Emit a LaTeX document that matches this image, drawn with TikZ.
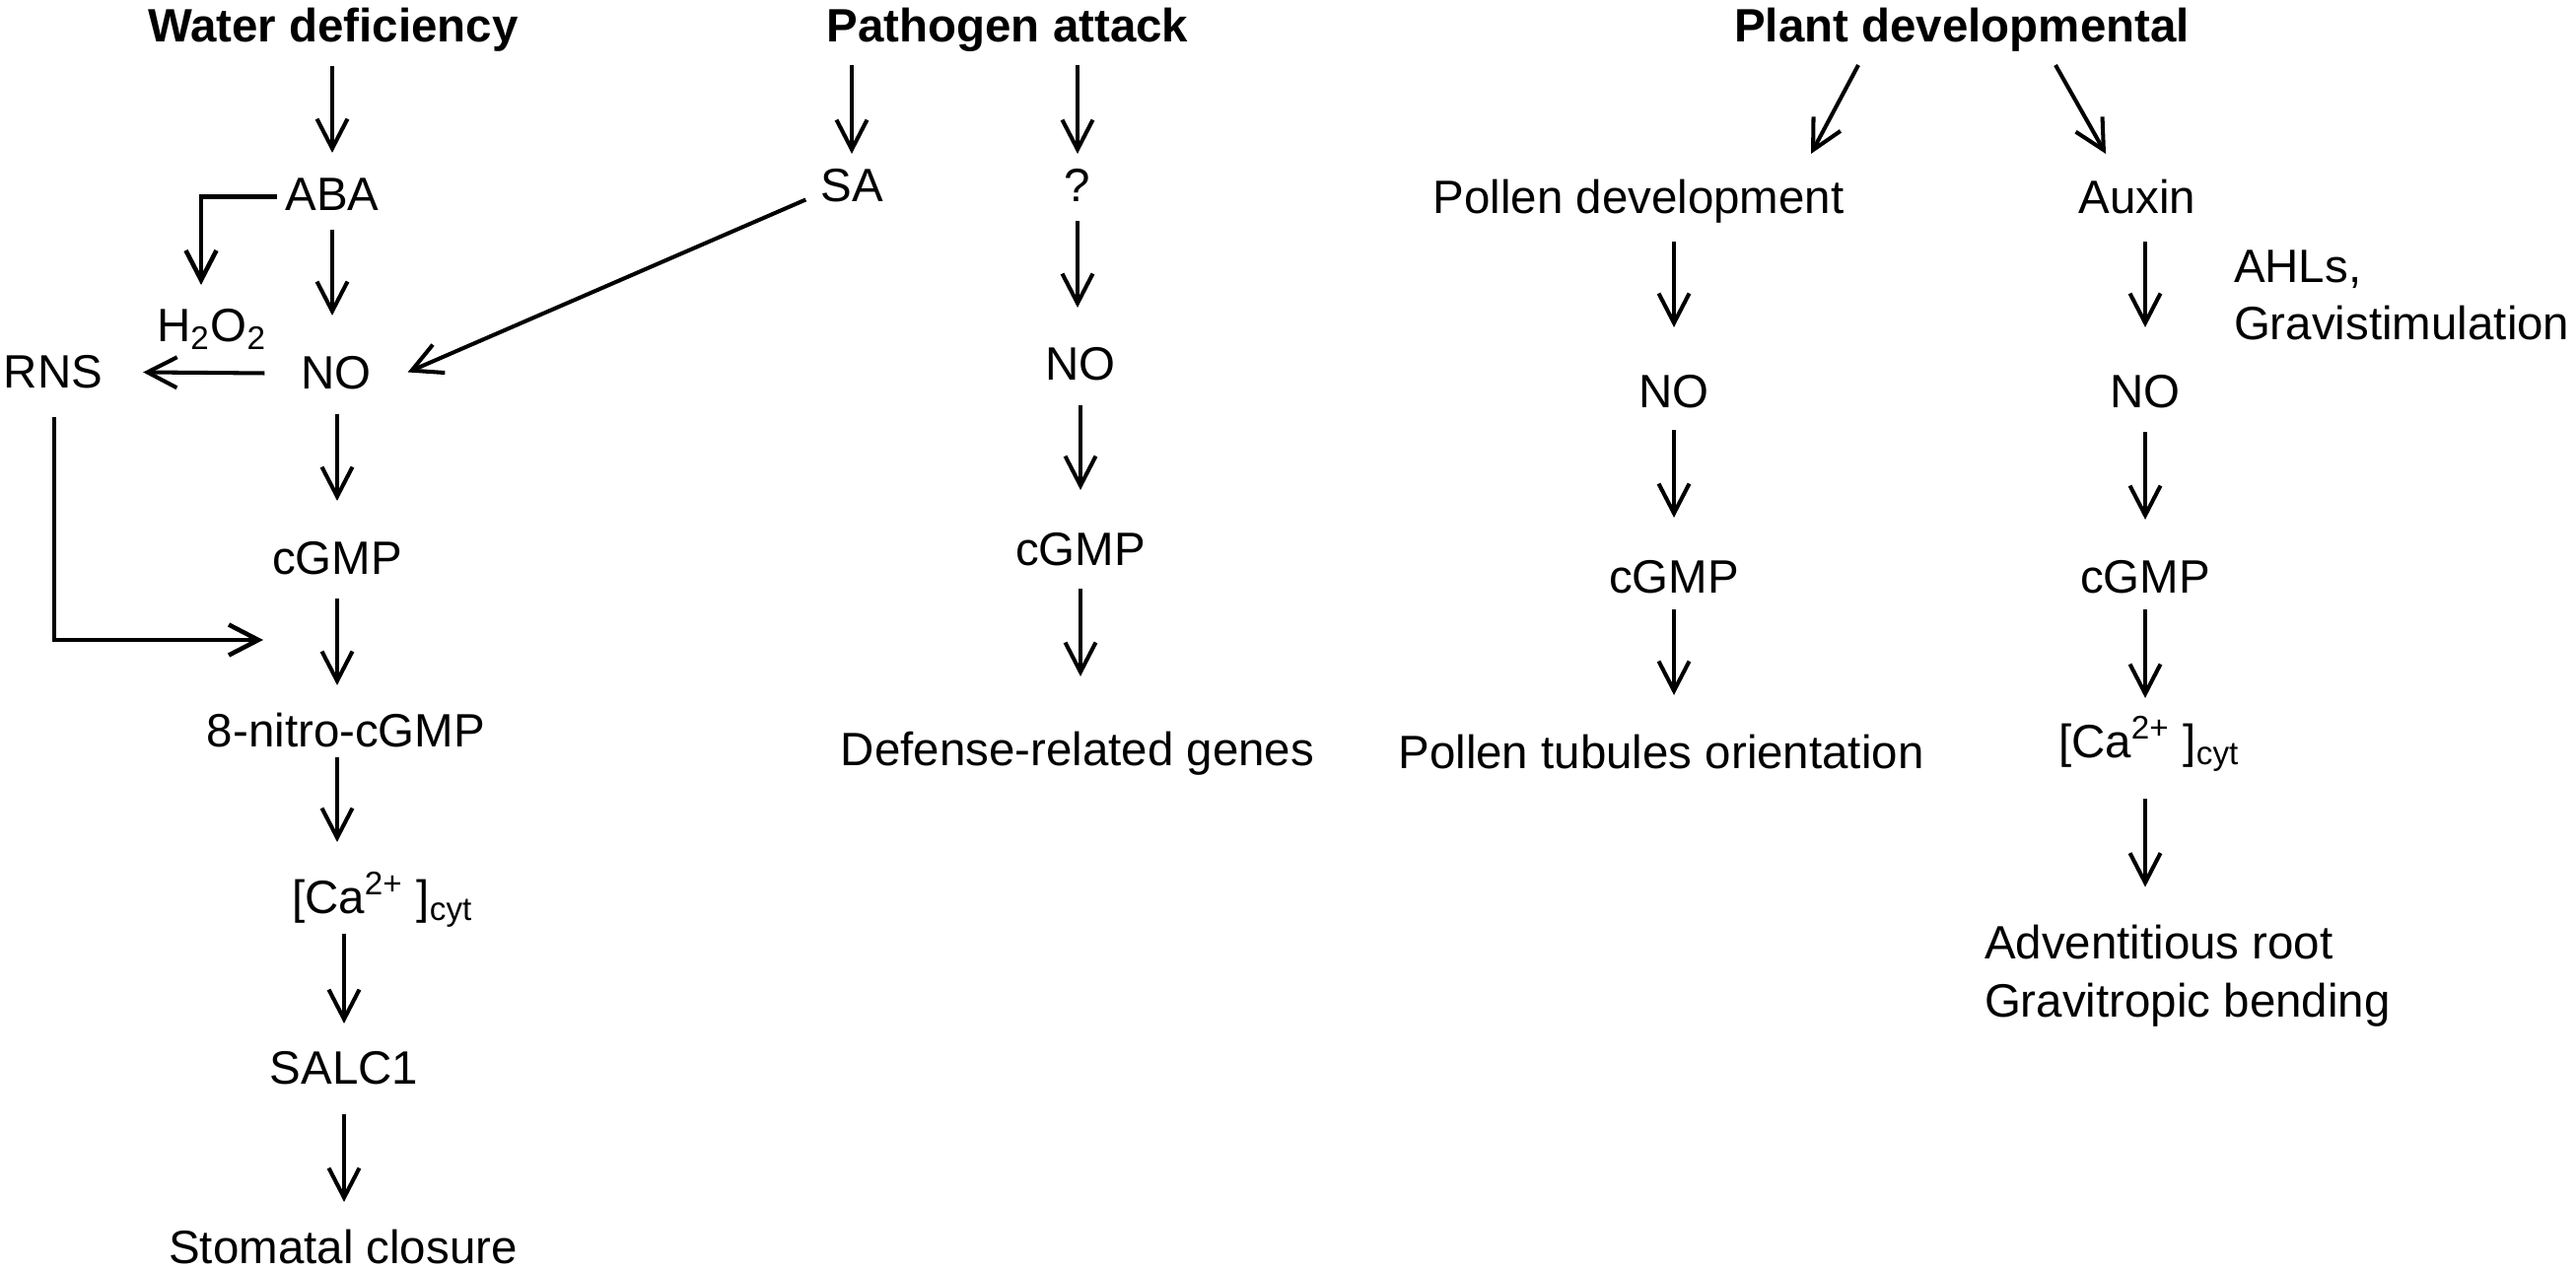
\documentclass[tikz,border=0pt]{standalone}
\usepackage{fontspec}
\setmainfont{Liberation Sans}
\usetikzlibrary{arrows.meta,calc}
\begin{document}
\begin{tikzpicture}[x=0.01cm,y=-0.01cm,
  lbl/.style={inner sep=0pt,outer sep=0pt,text height=0.35cm,text depth=0.1cm,anchor=base,font=\fontsize{13.5}{16.5}\selectfont},
  hdr/.style={lbl,font=\fontsize{13.5}{16.5}\selectfont\bfseries},
  multi/.style={inner sep=0pt,outer sep=0pt,anchor=base west,align=left,font=\fontsize{13.5}{16.5}\selectfont},
  arr/.style={-{Straight Barb[length=0.3cm,width=0.31cm]},line width=1.15pt},
  arrthick/.style={arr,line width=1.3pt},
]
\useasboundingbox[fill=white] (0,0) rectangle (2613,1289);

% headings
\node[hdr] (WD) at (338,43) {Water deficiency};
\node[hdr] (PA) at (1022,43) {Pathogen attack};
\node[hdr] (PD) at (1990,43) {Plant developmental};

% water deficiency column
\node[lbl] (ABA) at (337,214) {ABA};
\node[lbl] (H2O2) at (215,347) {H\textsubscript{2}O\textsubscript{2}};
\node[lbl] (NOl) at (341,395) {NO};
\node[lbl] (RNS) at (54,394) {RNS};
\node[lbl] (cGMPl) at (342,583) {cGMP};
\node[lbl] (nitro) at (351,758) {8-nitro-cGMP};
\node[lbl,anchor=base west] (Cal) at (296,926) {[Ca\textsuperscript{2+} ]\textsubscript{cyt}};
\node[lbl] (SALC) at (349,1099) {SALC1};
\node[lbl] (stom) at (348,1281) {Stomatal closure};

% pathogen column
\node[lbl] (SA) at (864,205) {SA};
\node[lbl] (Q) at (1093,205) {?};
\node[lbl] (NOm) at (1096,386) {NO};
\node[lbl] (cGMPm) at (1096,574) {cGMP};
\node[lbl] (def) at (1093,776) {Defense-related genes};

% plant developmental columns
\node[lbl] (PoD) at (1662,217) {Pollen development};
\node[lbl] (aux) at (2168,217) {Auxin};
\node[multi] (AHL) at (2266,345) {AHLs,\\Gravistimulation};
\node[lbl] (NOr1) at (1698,414) {NO};
\node[lbl] (NOr2) at (2176,414) {NO};
\node[lbl] (cGr1) at (1698,602) {cGMP};
\node[lbl] (cGr2) at (2176,602) {cGMP};
\node[lbl] (PTO) at (1685,780) {Pollen tubules orientation};
\node[lbl,anchor=base west] (Car) at (2088,768) {[Ca\textsuperscript{2+} ]\textsubscript{cyt}};
\node[multi] (adv) at (2013,1031) {Adventitious root\\Gravitropic bending};

% arrows: water deficiency
\draw[arr,shorten <=0.14cm,shorten >=0.24cm] (WD.south -| ABA) -- (ABA.north);
\draw[arr,shorten <=0.09cm,shorten >=0.40cm] (ABA.south) -- (ABA.south |- NOl.north);
\draw[arrthick] ($(ABA.west)+(-9,-2)$) -| ($(H2O2.north)+(-11,-23)$);
\draw[arr] ($(NOl.west)+(-37,-4)$) -- ($(RNS.east)+(41,-4)$);
\draw[arr,shorten <=0.15cm,shorten >=0.40cm] (NOl.south -| cGMPl) -- (cGMPl.north);
\draw[arrthick] ($(RNS.south)+(1,19)$) |- ($(cGMPl.south)+(-75,56)$);
\draw[arr,shorten <=0.14cm,shorten >=0.28cm] (cGMPl.south) -- (cGMPl.south |- nitro.north);
\draw[arr,shorten >=0.37cm] (cGMPl.south |- nitro.south) -- (cGMPl.south |- Cal.north);
\draw[arr,shorten <=0.11cm,shorten >=0.26cm] (SALC.north |- Cal.south) -- (SALC.north);
\draw[arr,shorten <=0.21cm,shorten >=0.27cm] (SALC.south) -- (SALC.south |- stom.north);

% arrows: pathogen attack
\draw[arr,shorten <=0.13cm,shorten >=0.14cm] (PA.south -| SA) -- (SA.north);
\draw[arr,shorten <=0.13cm,shorten >=0.14cm] (PA.south -| Q) -- (Q.north);
\draw[arr] ($(SA.west)+(-15,10)$) -- ($(NOl.east)+(37,-5)$);
\draw[arr,shorten <=0.09cm,shorten >=0.39cm] (Q.south) -- (Q.south |- NOm.north);
\draw[arr,shorten <=0.15cm,shorten >=0.42cm] (NOm.south) -- (cGMPm.north);
\draw[arr,shorten <=0.13cm,shorten >=0.55cm] (cGMPm.south) -- (cGMPm.south |- def.north);

% arrows: plant developmental
\draw[arr] ($(PD.south)+(-105,13)$) -- ($(PoD.north)+(175,-26)$);
\draw[arr] ($(PD.south)+(95,13)$) -- ($(aux.north)+(-32,-26)$);
\draw[arr,shorten <=0.18cm,shorten >=0.47cm] (PoD.south -| NOr1) -- (NOr1.north);
\draw[arr,shorten <=0.12cm,shorten >=0.42cm] (NOr1.south) -- (cGr1.north);
\draw[arr,shorten <=0.06cm,shorten >=0.40cm] (cGr1.south) -- (cGr1.south |- PTO.north);
\draw[arr,shorten <=0.18cm,shorten >=0.47cm] (aux.south -| NOr2) -- (NOr2.north);
\draw[arr,shorten <=0.14cm,shorten >=0.40cm] (NOr2.south) -- (cGr2.north);
\draw[arr,shorten <=0.06cm,shorten >=0.25cm] (cGr2.south) -- (cGr2.south |- Car.north);
\draw[arr,shorten <=0.32cm,shorten >=0.39cm] (cGr2.south |- Car.south) -- (cGr2.south |- adv.north);
\end{tikzpicture}
\end{document}
